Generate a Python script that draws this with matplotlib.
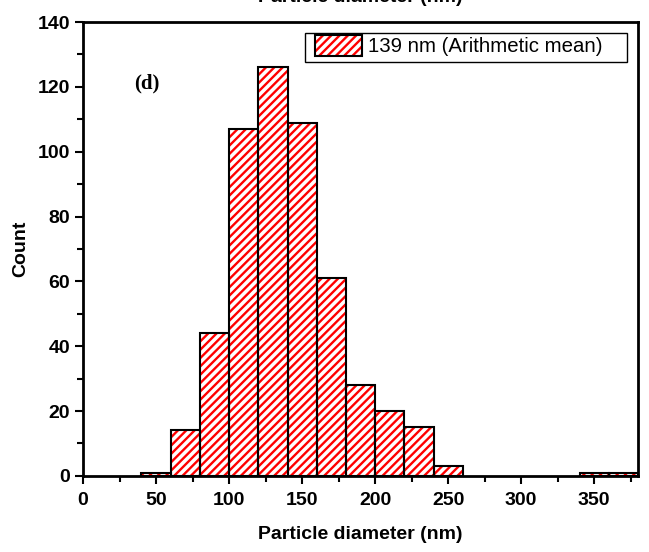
import matplotlib
matplotlib.use("Agg")
import matplotlib.pyplot as plt
import matplotlib.patches as mpatches
from matplotlib.legend_handler import HandlerTuple
from matplotlib.ticker import MultipleLocator

plt.rcParams["font.family"] = ["Liberation Sans", "DejaVu Sans"]
plt.rcParams["hatch.linewidth"] = 1.7

# histogram data (bin edges 20 nm)
bin_left = [40, 60, 80, 100, 120, 140, 160, 180, 200, 220, 240, 340, 360]
counts = [1, 14, 44, 107, 126, 109, 61, 28, 20, 15, 3, 1, 1]
bin_width = 20
legend_label = "139 nm (Arithmetic mean)"

RED = "#ff0000"
HATCH = "////"

fig = plt.figure(figsize=(6.49, 5.52), dpi=100, facecolor="white")
ax = fig.add_axes([0.128, 0.138, 0.855, 0.822])

# red hatch layer, then black outlines on top
ax.bar(bin_left, counts, width=bin_width, align="edge", color="white",
       edgecolor=RED, linewidth=0, hatch=HATCH)
ax.bar(bin_left, counts, width=bin_width, align="edge", fill=False,
       edgecolor="black", linewidth=1.5)

ax.set_xlim(0, 380)
ax.set_ylim(0, 140)
ax.xaxis.set_major_locator(MultipleLocator(50))
ax.xaxis.set_minor_locator(MultipleLocator(25))
ax.yaxis.set_major_locator(MultipleLocator(20))
ax.yaxis.set_minor_locator(MultipleLocator(10))
ax.tick_params(which="major", direction="out", length=6, width=1.5,
               labelsize=14, top=False, right=False)
ax.tick_params(axis="x", which="major", pad=6)
ax.tick_params(which="minor", direction="out", length=4, width=1.5,
               top=False, right=False)
for lbl in ax.get_xticklabels() + ax.get_yticklabels():
    lbl.set_fontweight("bold")
for sp in ax.spines.values():
    sp.set_linewidth(2)

ax.set_xlabel("Particle diameter (nm)", fontsize=14, fontweight="bold", labelpad=12)
ax.set_ylabel("Count", fontsize=14, fontweight="bold", labelpad=6)

# top axis label (mostly cut off by the figure edge)
fig.text(0.128 + 0.855 / 2, 1 - 1.5 / 552, "Particle diameter (nm)", ha="center",
         va="baseline", fontsize=14, fontweight="bold")

ax.text(0.115, 0.865, "(d)", transform=ax.transAxes, fontsize=15,
        fontweight="bold", family="Liberation Serif", va="center", ha="center")

# legend: frame drawn by hand to match the wide box of the original
ax.add_patch(mpatches.Rectangle((0.400, 0.912), 0.580, 0.064,
                                transform=ax.transAxes, facecolor="white",
                                edgecolor="black", linewidth=1.0, zorder=4))
h_fill = mpatches.Patch(facecolor="white", edgecolor=RED, linewidth=0, hatch=HATCH)
h_edge = mpatches.Patch(fill=False, edgecolor="black", linewidth=1.5)
leg = ax.legend([(h_fill, h_edge)], [legend_label],
                handler_map={tuple: HandlerTuple(ndivide=1, pad=0)},
                loc="upper left", bbox_to_anchor=(0.418, 0.972),
                fontsize=14.7, frameon=False, handlelength=2.3, handleheight=1.25,
                borderpad=0, handletextpad=0.3, borderaxespad=0)
leg.set_zorder(5)

fig.savefig("out.png", dpi=100, facecolor="white")
